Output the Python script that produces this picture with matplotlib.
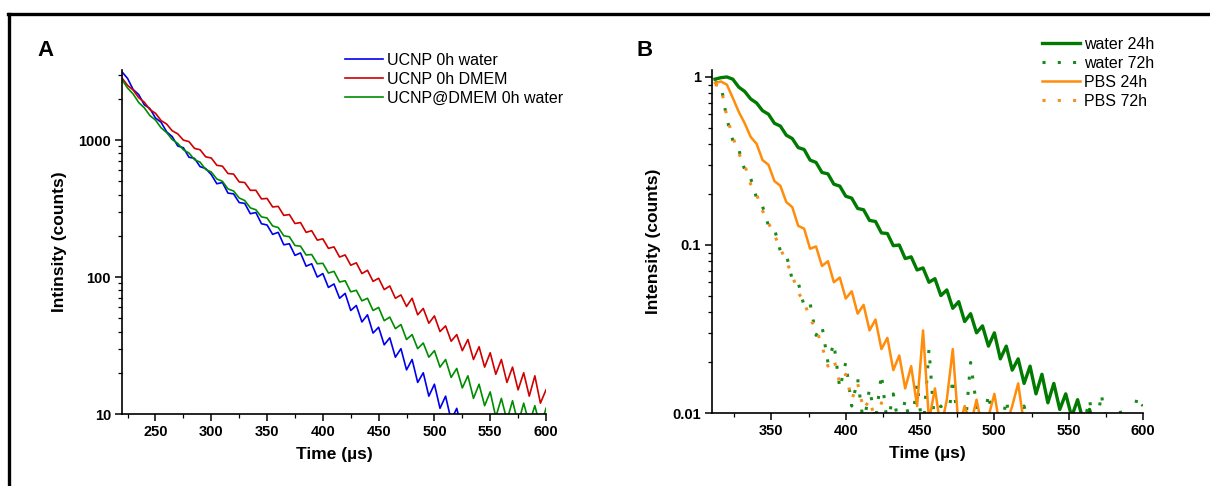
import numpy as np
import matplotlib
matplotlib.use('Agg')
import matplotlib.pyplot as plt
from matplotlib.ticker import MultipleLocator, FixedLocator, FixedFormatter, LogLocator, NullFormatter
from matplotlib.lines import Line2D

plt.rcParams['font.family'] = ['Liberation Sans', 'DejaVu Sans']

# ---- Panel A: raw counts, sampled every 5 us ----
time_blue = np.arange(220, 536, 5)
ucnp_water = [3150, 2820, 2340, 2150, 1810, 1700, 1450, 1350, 1150, 1060,
              905, 880, 750, 735, 640, 620, 560, 480, 490, 410,
              405, 350, 345, 290, 296, 245, 240, 205, 212, 172,
              175, 144, 150, 120, 125, 100, 106, 84, 89, 70,
              76, 57, 62, 47, 53, 39, 43, 32, 36, 26,
              30, 21, 25, 17, 20, 13.5, 16.5, 11, 13.5, 9,
              11, 7.5, 9, 6]

time_a = np.arange(220, 601, 5)
ucnp_dmem = [2840, 2510, 2320, 2040, 1890, 1670, 1570, 1390, 1310, 1170,
             1110, 1000, 975, 870, 850, 755, 740, 655, 645, 570,
             565, 495, 490, 430, 430, 372, 375, 325, 328, 282,
             286, 246, 250, 212, 218, 186, 190, 162, 166, 140,
             145, 122, 127, 106, 112, 93, 98, 81, 86, 70,
             74, 61, 70, 53, 59, 46, 52, 40, 44, 34,
             38, 29, 35, 25, 31, 22, 28, 19.5, 25, 17,
             22, 15, 20, 13.5, 19, 12, 15]
ucnp_dmem_water = [2760, 2400, 2170, 1880, 1720, 1510, 1400, 1230, 1135, 1010,
                   945, 850, 805, 720, 690, 610, 585, 520, 500, 440,
                   425, 378, 362, 320, 310, 275, 270, 236, 230, 200,
                   197, 170, 168, 145, 146, 125, 126, 107, 110, 92,
                   94, 78, 80, 67, 70, 57, 60, 48, 51, 42,
                   45, 35, 38, 30, 33, 26, 29, 22, 25, 18.5,
                   21.5, 15.5, 19, 13, 16.5, 11.5, 14.5, 9.5, 13, 9,
                   12.5, 8.5, 12, 8.5, 11.5, 8, 11]

# ---- Panel B: normalised intensity, sampled every 4 us ----
time_w24 = np.arange(312, 569, 4)
water_24h = [0.97, 0.99, 1.0, 0.97, 0.87, 0.82, 0.74, 0.70, 0.63, 0.60,
             0.53, 0.51, 0.45, 0.43, 0.38, 0.37, 0.32, 0.31, 0.27, 0.265,
             0.23, 0.224, 0.195, 0.19, 0.165, 0.162, 0.14, 0.138, 0.118, 0.117,
             0.099, 0.1, 0.083, 0.085, 0.071, 0.073, 0.06, 0.063, 0.05, 0.054,
             0.042, 0.046, 0.035, 0.039, 0.03, 0.033, 0.025, 0.03, 0.021, 0.025,
             0.018, 0.021, 0.015, 0.019, 0.013, 0.017, 0.0115, 0.015, 0.0105, 0.013,
             0.0095, 0.012, 0.0088, 0.0105, 0.008]

time_w72 = np.arange(312, 601, 4)
water_72h = [0.94, 0.90, 0.56, 0.42, 0.37, 0.28, 0.25, 0.19, 0.17, 0.13,
             0.125, 0.092, 0.088, 0.062, 0.06, 0.043, 0.045, 0.029, 0.033, 0.02,
             0.026, 0.014, 0.02, 0.011, 0.016, 0.0085, 0.014, 0.009, 0.017, 0.0085,
             0.013, 0.008, 0.012, 0.008, 0.015, 0.0075, 0.024, 0.008, 0.011, 0.0075,
             0.016, 0.008, 0.0075, 0.02, 0.011, 0.0075, 0.013, 0.008, 0.0075, 0.012,
             0.0075, 0.008, 0.011, 0.0075, 0.0075, 0.008, 0.0075, 0.0075, 0.008, 0.0075,
             0.0075, 0.0075, 0.0085, 0.012, 0.0075, 0.013, 0.0075, 0.0075, 0.011, 0.0075,
             0.0075, 0.0125, 0.011]

time_p24 = np.arange(312, 525, 4)
pbs_24h = [0.92, 0.94, 0.90, 0.75, 0.62, 0.53, 0.44, 0.40, 0.32, 0.30,
           0.24, 0.225, 0.18, 0.168, 0.13, 0.125, 0.095, 0.098, 0.075, 0.08,
           0.06, 0.064, 0.048, 0.053, 0.039, 0.044, 0.031, 0.036, 0.024, 0.028,
           0.018, 0.022, 0.014, 0.019, 0.011, 0.031, 0.009, 0.014, 0.008, 0.012,
           0.024, 0.008, 0.011, 0.0085, 0.012, 0.008, 0.0095, 0.013, 0.008, 0.0085,
           0.011, 0.015, 0.0085, 0.007]

time_p72 = np.arange(312, 481, 4)
pbs_72h = [0.90, 0.88, 0.58, 0.44, 0.35, 0.30, 0.23, 0.20, 0.16, 0.135,
           0.115, 0.095, 0.08, 0.066, 0.052, 0.046, 0.036, 0.032, 0.025, 0.019,
           0.021, 0.015, 0.017, 0.012, 0.015, 0.0105, 0.012, 0.009, 0.0115, 0.0085,
           0.0105, 0.008, 0.0095, 0.0075, 0.009, 0.0075, 0.0085, 0.0075, 0.009, 0.007,
           0.007, 0.0065, 0.0065]

W, H = 1210, 486
fig = plt.figure(figsize=(W / 100, H / 100), dpi=100)

def style_axes(ax):
    for s in ['top', 'right']:
        ax.spines[s].set_visible(False)
    for s in ['left', 'bottom']:
        ax.spines[s].set_linewidth(1.2)
    ax.tick_params(which='major', direction='out', length=5, width=1.1,
                   labelsize=10.5, pad=3)
    ax.tick_params(which='minor', direction='out', length=3, width=0.9)
    for lab in ax.get_xticklabels() + ax.get_yticklabels():
        lab.set_fontweight('bold')
    ax.xaxis.set_major_locator(MultipleLocator(50))
    ax.xaxis.set_minor_locator(MultipleLocator(25))
    ax.yaxis.set_minor_locator(LogLocator(base=10, subs=np.arange(2, 10)))
    ax.yaxis.set_minor_formatter(NullFormatter())
    ax.set_xlabel('Time (µs)', fontsize=12.5, fontweight='bold', labelpad=6)

# Panel A
axA = fig.add_axes([122 / W, 1 - 414 / H, 424 / W, 344 / H])
axA.plot(time_blue, ucnp_water, color='#0000ee', lw=1.2, label='UCNP 0h water')
axA.plot(time_a, ucnp_dmem, color='#d00000', lw=1.2, label='UCNP 0h DMEM')
axA.plot(time_a, ucnp_dmem_water, color='#008c00', lw=1.2, label='UCNP@DMEM 0h water')
axA.set_yscale('log')
axA.set_xlim(220, 600)
axA.set_ylim(10, 3250)
axA.yaxis.set_major_locator(FixedLocator([10, 100, 1000]))
axA.yaxis.set_major_formatter(FixedFormatter(['10', '100', '1000']))
style_axes(axA)
axA.set_ylabel('Intinsity (counts)', fontsize=12.5, fontweight='bold', labelpad=8)
axA.legend(loc='upper left', bbox_to_anchor=(345 / W, 1 - 53 / H),
           bbox_transform=fig.transFigure, frameon=False, fontsize=11.5,
           handlelength=2.4, handletextpad=0.25, labelspacing=0.24,
           borderpad=0, borderaxespad=0)

# Panel B
axB = fig.add_axes([712 / W, 1 - 413 / H, 431 / W, 343 / H])
axB.plot(time_w24, water_24h, color='#007a00', lw=2.4, label='water 24h')
axB.plot(time_w72, water_72h, color='#1a8a1a', lw=2.2, ls=(0, (1, 4)), label='water 72h')
axB.plot(time_p24, pbs_24h, color='#ff8c0a', lw=1.8, label='PBS 24h')
axB.plot(time_p72, pbs_72h, color='#f5901e', lw=2.2, ls=(0, (1, 4)), label='PBS 72h')
axB.set_yscale('log')
axB.set_xlim(310, 600)
axB.set_ylim(0.01, 1.1)
axB.yaxis.set_major_locator(FixedLocator([0.01, 0.1, 1]))
axB.yaxis.set_major_formatter(FixedFormatter(['0.01', '0.1', '1']))
style_axes(axB)
axB.set_ylabel('Intensity (counts)', fontsize=12.5, fontweight='bold', labelpad=8)
axB.legend(loc='upper left', bbox_to_anchor=(1042 / W, 1 - 37 / H),
           bbox_transform=fig.transFigure, frameon=False, fontsize=11.5,
           handlelength=2.4, handletextpad=0.25, labelspacing=0.24,
           borderpad=0, borderaxespad=0)

# panel letters
fig.text(37 / W, 1 - 50 / H, 'A', fontsize=16, fontweight='bold', va='center')
fig.text(637 / W, 1 - 50 / H, 'B', fontsize=16, fontweight='bold', va='center')

# outer frame (top and left edges)
fig.add_artist(Line2D([8.5 / W, 8.5 / W], [0, 1 - 14.5 / H], transform=fig.transFigure,
                      color='black', lw=2.4))
fig.add_artist(Line2D([7.5 / W, 1], [1 - 14.5 / H, 1 - 14.5 / H], transform=fig.transFigure,
                      color='black', lw=2.4))

fig.savefig('out.png', dpi=100, facecolor='white')
